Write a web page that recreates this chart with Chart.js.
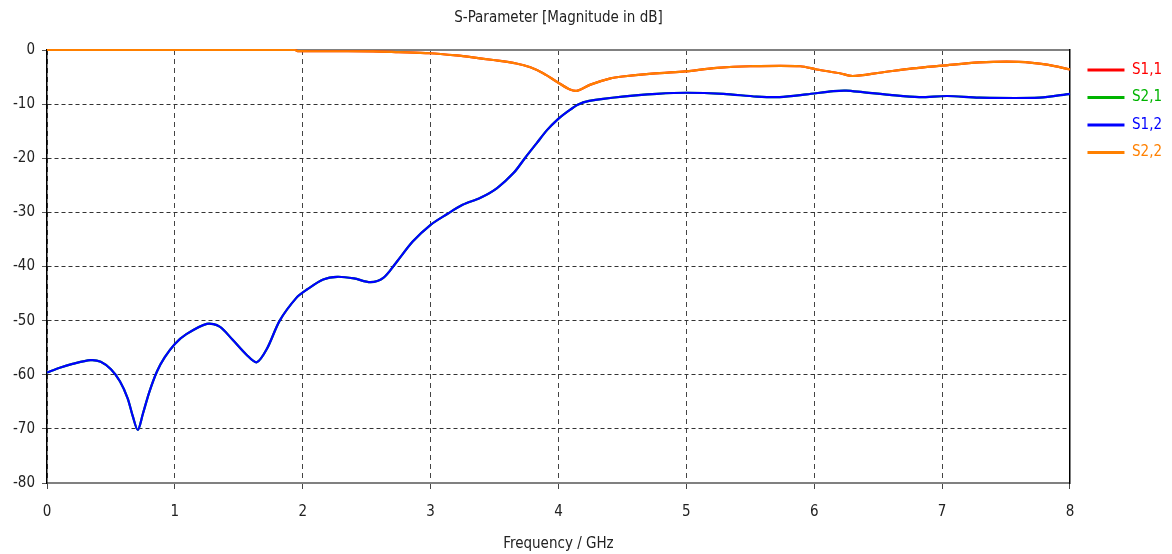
<!DOCTYPE html>
<html>
<head>
<meta charset="utf-8">
<script src="https://cdn.jsdelivr.net/npm/chart.js@4/dist/chart.umd.min.js"></script>
<style>
html,body{margin:0;padding:0;background:#fff;}
#wrap{width:1172px;height:554px;position:relative;}
</style>
</head>
<body>
<div id="wrap"><canvas id="c" width="1172" height="554"></canvas></div>
<script>
const chartTitle = 'S-Parameter [Magnitude in dB]';
const xTitle = 'Frequency / GHz';
const seriesNames = ['S1,1', 'S2,1', 'S1,2', 'S2,2'];
const seriesColors = ['#ff0000', '#00b400', '#0000ff', '#ff8000'];
const xTickValues = [0, 1, 2, 3, 4, 5, 6, 7, 8];
const yTickValues = [0, -10, -20, -30, -40, -50, -60, -70, -80];

// S1,2 / S2,1 (transmission)
const freqTrans = [0, 0.1, 0.2, 0.34, 0.42, 0.5, 0.57, 0.63, 0.67, 0.71, 0.75, 0.80, 0.86, 0.92, 1.0, 1.09, 1.25, 1.35, 1.45, 1.56, 1.64, 1.72, 1.82, 1.95, 2.03, 2.16, 2.27, 2.4, 2.53, 2.63, 2.73, 2.86, 3.0, 3.13, 3.25, 3.39, 3.52, 3.65, 3.74, 3.83, 3.91, 3.99, 4.07, 4.15, 4.24, 4.5, 4.77, 5.0, 5.29, 5.55, 5.73, 5.94, 6.15, 6.25, 6.38, 6.59, 6.82, 7.04, 7.29, 7.76, 8.0];
const s12 = [-59.6, -58.7, -58.0, -57.3, -57.6, -59.0, -61.2, -64.3, -67.6, -70.2, -67.2, -63.2, -59.4, -56.8, -54.3, -52.5, -50.6, -51.1, -53.5, -56.3, -57.7, -55.2, -50.0, -45.8, -44.3, -42.4, -41.9, -42.2, -42.9, -42.1, -39.3, -35.4, -32.3, -30.3, -28.6, -27.3, -25.5, -22.7, -19.9, -17.2, -14.8, -12.9, -11.4, -10.1, -9.4, -8.6, -8.1, -7.9, -8.1, -8.6, -8.7, -8.2, -7.6, -7.5, -7.8, -8.3, -8.7, -8.5, -8.8, -8.8, -8.1];
const s21 = [-59.6, -58.7, -58.0, -57.3, -57.6, -59.0, -61.2, -64.3, -67.6, -70.2, -67.2, -63.2, -59.4, -56.8, -54.3, -52.5, -50.6, -51.1, -53.5, -56.3, -57.7, -55.2, -50.0, -45.8, -44.3, -42.4, -41.9, -42.2, -42.9, -42.1, -39.3, -35.4, -32.3, -30.3, -28.6, -27.3, -25.5, -22.7, -19.9, -17.2, -14.8, -12.9, -11.4, -10.1, -9.4, -8.6, -8.1, -7.9, -8.1, -8.6, -8.7, -8.2, -7.6, -7.5, -7.8, -8.3, -8.7, -8.5, -8.8, -8.8, -8.1];

// S2,2 / S1,1 (reflection)
const freqRefl = [0, 1.94, 1.96, 2.55, 2.75, 2.99, 3.2, 3.33, 3.49, 3.67, 3.78, 3.88, 3.99, 4.09, 4.15, 4.25, 4.4, 4.5, 4.71, 4.97, 5.24, 5.5, 5.89, 6.02, 6.2, 6.3, 6.51, 6.77, 7.0, 7.29, 7.6, 7.82, 8.0];
const s22 = [0, 0, -0.2, -0.25, -0.4, -0.6, -1.0, -1.35, -1.85, -2.5, -3.2, -4.3, -5.9, -7.3, -7.5, -6.4, -5.3, -4.9, -4.4, -4.0, -3.3, -3.0, -3.0, -3.6, -4.3, -4.8, -4.2, -3.4, -2.9, -2.3, -2.2, -2.7, -3.6];
const s11 = [0, 0, -0.2, -0.25, -0.4, -0.6, -1.0, -1.35, -1.85, -2.5, -3.2, -4.3, -5.9, -7.3, -7.5, -6.4, -5.3, -4.9, -4.4, -4.0, -3.3, -3.0, -3.0, -3.6, -4.3, -4.8, -4.2, -3.4, -2.9, -2.3, -2.2, -2.7, -3.6];

const FONT = "'DejaVu Sans Condensed', 'DejaVu Sans', sans-serif";
const pts = (xs, ys) => xs.map((x, i) => ({x: x, y: ys[i]}));

const seriesData = [pts(freqRefl, s11), pts(freqTrans, s21), pts(freqTrans, s12), pts(freqRefl, s22)];
const drawOrder = [3, 2, 1, 0];

const datasets = seriesNames.map((name, i) => ({
  label: name,
  data: seriesData[i],
  borderColor: seriesColors[i],
  backgroundColor: seriesColors[i],
  borderWidth: 2.2,
  pointRadius: 0,
  fill: false,
  tension: 0.3,
  order: drawOrder[i],
  clip: 6
}));

new Chart(document.getElementById('c'), {
  type: 'line',
  data: {datasets: datasets},
  options: {
    responsive: false,
    animation: false,
    events: [],
    layout: {padding: {left: 0, right: 0, top: 0, bottom: 0}},
    plugins: {
      tooltip: {enabled: false},
      title: {
        display: true,
        fullSize: false,
        text: chartTitle,
        color: '#222',
        font: {family: FONT, size: 15, weight: 'normal'},
        padding: {top: 9, bottom: 23}
      },
      legend: {
        display: true,
        position: 'right',
        align: 'start',
        fullSize: false,
        labels: {
          font: {family: FONT, size: 15},
          boxWidth: 37,
          boxHeight: 3,
          padding: 12.5,
          generateLabels: (chart) => chart.data.datasets.map((ds, i) => ({
            text: ds.label,
            fillStyle: ds.borderColor,
            strokeStyle: ds.borderColor,
            fontColor: ds.borderColor,
            lineWidth: 0,
            hidden: false,
            datasetIndex: i
          }))
        }
      }
    },
    scales: {
      x: {
        type: 'linear',
        position: 'bottom',
        min: 0,
        max: 8,
        afterBuildTicks: (s) => { s.ticks = xTickValues.map(v => ({value: v})); },
        afterFit: (s) => { s.height = 71; },
        ticks: {
          color: '#222',
          font: {family: FONT, size: 15},
          padding: 14,
          maxRotation: 0
        },
        grid: {
          color: '#444',
          lineWidth: 1,
          tickColor: '#444',
          tickLength: 6,
          tickBorderDash: []
        },
        border: {display: true, color: '#808080', width: 2, dash: [5, 4]},
        title: {
          display: true,
          text: xTitle,
          color: '#222',
          font: {family: FONT, size: 15},
          padding: {top: 0, bottom: 1}
        }
      },
      xTop: {
        type: 'linear',
        position: 'top',
        min: 0,
        max: 8,
        afterFit: (s) => { s.height = 0; },
        ticks: {display: false},
        grid: {display: false, drawTicks: false},
        border: {display: true, color: '#808080', width: 2}
      },
      y: {
        type: 'linear',
        position: 'left',
        min: -80,
        max: 0,
        afterBuildTicks: (s) => { s.ticks = yTickValues.map(v => ({value: v})); },
        afterFit: (s) => { s.width = 47; },
        ticks: {
          color: '#222',
          font: {family: FONT, size: 15},
          padding: 7
        },
        grid: {
          color: '#333',
          lineWidth: 1,
          tickColor: '#555',
          tickLength: 5,
          tickBorderDash: []
        },
        border: {display: true, color: '#000', width: 1.5, dash: [4, 3]}
      },
      yRight: {
        type: 'linear',
        position: 'right',
        min: -80,
        max: 0,
        afterFit: (s) => { s.width = 5; },
        ticks: {display: false},
        grid: {display: false, drawTicks: false},
        border: {display: true, color: '#000', width: 1.5}
      }
    }
  }
});
</script>
</body>
</html>
